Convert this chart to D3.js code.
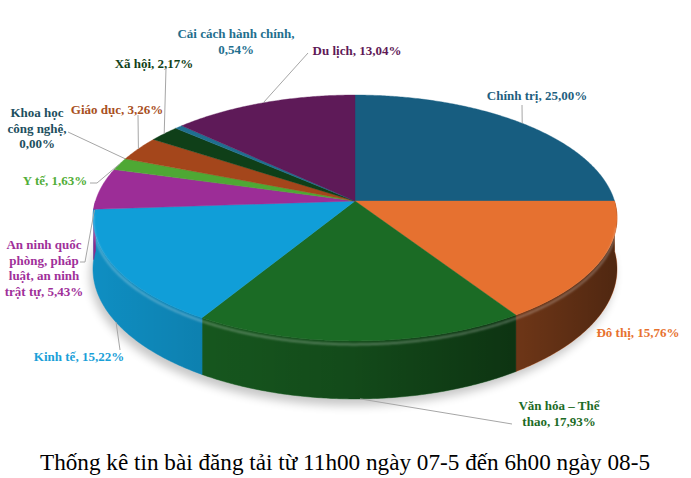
<!DOCTYPE html>
<html>
<head>
<meta charset="utf-8">
<script src="https://cdn.jsdelivr.net/npm/d3@7/dist/d3.min.js"></script>
<style>
  html, body { margin: 0; padding: 0; background: #ffffff; }
  svg { display: block; }
</style>
</head>
<body>
<svg id="chart" width="691" height="478"></svg>
<script>
// ---- data ----
const categories = [
  "Chính trị", "Đô thị", "Văn hóa – Thể thao", "Kinh tế",
  "An ninh quốc phòng, pháp luật, an ninh trật tự", "Y tế", "Khoa học công nghệ",
  "Giáo dục", "Xã hội", "Cải cách hành chính", "Du lịch"
];
const values = [25.00, 15.76, 17.93, 15.22, 5.43, 1.63, 0.00, 3.26, 2.17, 0.54, 13.04];
const sliceColors = ["#175d80", "#e67130", "#1b6b25", "#109ed8", "#9c2d97", "#4ea834",
                     "#2a6f8e", "#a4461b", "#0f3f18", "#1f6f90", "#5e1a58"];
const labelColors = ["#1f5f80", "#e7722f", "#1c6b26", "#1aa0d8", "#a0309a", "#52ae38",
                     "#1d4f5e", "#a8501e", "#113f18", "#1f6f8e", "#5f1a57"];
// how each label breaks into lines
const labelBreaks = [
  ["{c}, {v}"], ["{c}, {v}"], ["Văn hóa – Thể", "thao, {v}"], ["{c}, {v}"],
  ["An ninh quốc", "phòng, pháp", "luật, an ninh", "trật tự, {v}"], ["{c}, {v}"],
  ["Khoa học", "công nghệ,", "{v}"], ["{c}, {v}"], ["{c}, {v}"],
  ["Cải cách hành chính,", "{v}"], ["{c}, {v}"]
];
const title = "Thống kê tin bài đăng tải từ 11h00 ngày 07-5 đến 6h00 ngày 08-5";

// ---- layout (label placement) ----
// [text centre x, first baseline y, leader end x, leader end y, elbow x (or null), angle fraction in slice, surface]
const labelLayout = [
  [537, 100, 522, 105, null, 0.5, "top"],
  [638, 337, null, null, null, 0.5, "top"],
  [559, 410, 512, 424, null, 0.5, "bottom"],
  [79, 361, 120, 350, null, 0.5, "bottom"],
  [44, 249, 80, 262, 85, 0.1, "mid"],
  [55, 185, 90, 183, 97, 0.5, "top"],
  [37, 117, 68, 132, null, 0.5, "top"],
  [117, 114, 138, 115, null, 0.5, "top"],
  [154, 68, 166, 68, null, 0.5, "top"],
  [236, 38, null, null, null, 0.5, "top"],
  [357, 55, 308, 53, null, 0.5, "top"]
];
const FONT = "'Liberation Serif', 'Times New Roman', serif";

const svg = d3.select("#chart");
const defs = svg.append("defs");

// perspective projection of the disc
const P = { cx: 355, cy: 201, f: 259.5, a: 120.6, c: 0.138, depth: 50 };
function project(phi, drop) {
  const X = Math.sin(phi), Z = -Math.cos(phi);
  const w = 1 - P.c * Z;
  return [P.cx + P.f * X / w, P.cy + (P.a * Z + drop) / w];
}
function arcPoints(a0, a1, drop) {
  const n = Math.max(2, Math.ceil(Math.abs(a1 - a0) / (Math.PI / 360)));
  const s = d3.scaleLinear().domain([0, n]).range([a0, a1]);
  return d3.range(n + 1).map(i => project(s(i), drop));
}
const line = d3.line();

const pie = d3.pie().sort(null).value(d => d).startAngle(0).endAngle(2 * Math.PI);
const arcs = pie(values);

// shadow
const blur = defs.append("filter").attr("id", "shadowBlur")
  .attr("x", "-20%").attr("y", "-20%").attr("width", "140%").attr("height", "140%");
blur.append("feGaussianBlur").attr("stdDeviation", 5);
svg.append("path")
  .attr("d", line(arcPoints(0, 2 * Math.PI, P.depth + 4)) + "Z")
  .attr("transform", "translate(-3,2)")
  .attr("fill", "#000").attr("opacity", 0.22)
  .attr("filter", "url(#shadowBlur)");

// walls
const wallG = svg.append("g");
arcs.forEach((d, i) => {
  const b0 = Math.max(d.startAngle, Math.PI / 2), b1 = Math.min(d.endAngle, 3 * Math.PI / 2);
  if (b1 <= b0) return;
  const pts = arcPoints(b0, b1, 0).concat(arcPoints(b1, b0, P.depth));
  wallG.append("path").attr("d", line(pts) + "Z")
    .attr("fill", d3.color(sliceColors[i]).darker(0.25))
    .attr("stroke", d3.color(sliceColors[i]).darker(0.25)).attr("stroke-width", 0.5);
});
const wg = defs.append("linearGradient").attr("id", "wallShade")
  .attr("gradientUnits", "userSpaceOnUse").attr("x1", 93).attr("x2", 617).attr("y1", 0).attr("y2", 0);
wg.append("stop").attr("offset", 0).attr("stop-color", "#000").attr("stop-opacity", 0.02);
wg.append("stop").attr("offset", 0.5).attr("stop-color", "#000").attr("stop-opacity", 0.25);
wg.append("stop").attr("offset", 1).attr("stop-color", "#000").attr("stop-opacity", 0.62);
svg.append("path")
  .attr("d", line(arcPoints(Math.PI / 2, 3 * Math.PI / 2, 0).concat(arcPoints(3 * Math.PI / 2, Math.PI / 2, P.depth))) + "Z")
  .attr("fill", "url(#wallShade)");

// top faces
const topG = svg.append("g");
arcs.forEach((d, i) => {
  if (d.endAngle - d.startAngle <= 0) return;
  const pts = [[P.cx, P.cy]].concat(arcPoints(d.startAngle, d.endAngle, 0));
  topG.append("path").attr("d", line(pts) + "Z")
    .attr("fill", sliceColors[i]).attr("stroke", sliceColors[i]).attr("stroke-width", 0.4);
});

// bevel highlight along the front edge
const hl = defs.append("filter").attr("id", "hlBlur");
hl.append("feGaussianBlur").attr("stdDeviation", 1);
svg.append("path")
  .attr("d", line(arcPoints(Math.PI * 0.56, Math.PI * 1.47, 3)))
  .attr("fill", "none").attr("stroke", "#ffffff").attr("stroke-opacity", 0.3)
  .attr("stroke-width", 2).attr("filter", "url(#hlBlur)");

// labels and leader lines
const fmt = v => d3.format(".2f")(v).replace(".", ",") + "%";
const labG = svg.append("g");
arcs.forEach((d, i) => {
  const L = labelLayout[i];
  const lines = labelBreaks[i].map(s => s.replace("{c}", categories[i]).replace("{v}", fmt(values[i])));
  const t = labG.append("text")
    .attr("x", L[0]).attr("y", L[1])
    .attr("text-anchor", "middle")
    .attr("font-family", FONT)
    .attr("font-size", 13).attr("font-weight", "bold")
    .attr("fill", labelColors[i]);
  lines.forEach((s, k) => t.append("tspan").attr("x", L[0]).attr("dy", k === 0 ? 0 : 15.5).text(s));
  if (L[2] !== null) {
    const ang = d.startAngle + (d.endAngle - d.startAngle) * L[5];
    const drop = L[6] === "top" ? 0 : (L[6] === "bottom" ? P.depth : P.depth * 0.1);
    const p = project(ang, drop);
    const pts = [[L[2], L[3]]];
    if (L[4] !== null) pts.push([L[4], L[3]]);
    pts.push(p);
    labG.append("path").attr("d", line(pts))
      .attr("fill", "none").attr("stroke", "#a6a6a6").attr("stroke-width", 1);
  }
});

// title
svg.append("text")
  .attr("x", 345).attr("y", 470)
  .attr("text-anchor", "middle")
  .attr("font-family", FONT)
  .attr("font-size", 23.2)
  .attr("fill", "#000")
  .text(title);
</script>
</body>
</html>
